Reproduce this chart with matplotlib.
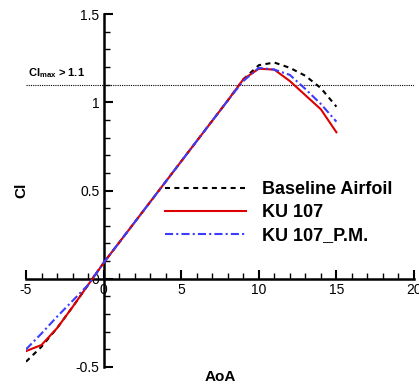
"""
Lift curve comparison: Cl vs AoA for the baseline airfoil and the KU 107 variants.
Output: out.png
"""

import matplotlib
matplotlib.use("Agg")
import matplotlib.pyplot as plt
from matplotlib.ticker import MultipleLocator, FuncFormatter
from matplotlib.lines import Line2D

plt.rcParams["font.family"] = ["Liberation Sans", "DejaVu Sans"]
plt.rcParams["mathtext.fontset"] = "custom"
plt.rcParams["mathtext.rm"] = "Liberation Sans"
plt.rcParams["mathtext.bf"] = "Liberation Sans:bold"

# ── Data ──────────────────────────────────────────────────────────────────────
aoa = [-5, -4, -3, -2, -1, 0, 1, 2, 3, 4, 5, 6, 7, 8, 9, 10, 11, 12, 13, 14, 15]

cl_baseline = [-0.47, -0.385, -0.28, -0.16, -0.035, 0.09, 0.205, 0.32, 0.435, 0.55,
               0.665, 0.78, 0.895, 1.01, 1.13, 1.21, 1.225, 1.195, 1.15, 1.08, 0.975]
cl_ku107 = [-0.41, -0.375, -0.28, -0.16, -0.035, 0.09, 0.205, 0.32, 0.435, 0.55,
            0.665, 0.78, 0.895, 1.01, 1.13, 1.19, 1.185, 1.12, 1.04, 0.96, 0.83]
cl_ku107_pm = [-0.40, -0.31, -0.215, -0.125, -0.035, 0.09, 0.205, 0.32, 0.435, 0.55,
               0.665, 0.78, 0.895, 1.01, 1.12, 1.195, 1.185, 1.155, 1.075, 0.99, 0.89]

labels = ["Baseline Airfoil", "KU 107", "KU 107_P.M."]
cl_threshold = 1.1

# ── Styles ────────────────────────────────────────────────────────────────────
BLACK_DASH = (0, (2.4, 2.1))
BLUE_DASHDOT = (0, (3.9, 1.5, 1.0, 1.5))
RED = "#dd0000"
BLUE = "#3c3cff"

W, H = 419, 388
fig = plt.figure(figsize=(W / 100, H / 100), dpi=100)
ax = fig.add_axes([26 / W, 1 - 367 / H, (414 - 26) / W, (367 - 14) / H])

ax.plot(aoa, cl_baseline, color="black", lw=1.5, ls=BLACK_DASH, zorder=3)
ax.plot(aoa, cl_ku107, color=RED, lw=1.5, zorder=4)
ax.plot(aoa, cl_ku107_pm, color=BLUE, lw=1.5, ls=BLUE_DASHDOT, zorder=5)

ax.axhline(cl_threshold, color="black", lw=0.8, ls=(0, (1, 1)), zorder=2)
ax.text(-4.9, 1.125, r"$\mathbf{Cl_{max}}$ > 1.1", fontsize=8, fontweight="bold",
        ha="left", va="bottom")

ax.set_xlim(-5, 20)
ax.set_ylim(-0.5, 1.5)

# Tecplot-style axes crossing at the origin
for side in ("top", "right"):
    ax.spines[side].set_visible(False)
ax.spines["left"].set_position(("data", 0))
ax.spines["bottom"].set_position(("data", 0))
for side in ("left", "bottom"):
    ax.spines[side].set_linewidth(1.8)

ax.xaxis.set_major_locator(MultipleLocator(5))
ax.xaxis.set_minor_locator(MultipleLocator(1))
ax.yaxis.set_major_locator(MultipleLocator(0.5))
ax.yaxis.set_minor_locator(MultipleLocator(0.1))
fmt = FuncFormatter(lambda v, p: "%g" % v)
ax.xaxis.set_major_formatter(fmt)
ax.yaxis.set_major_formatter(fmt)
ax.tick_params(which="major", direction="in", length=6.5, width=1.5, labelsize=10, pad=3)
ax.tick_params(which="minor", direction="in", length=4.3, width=1.0)

# Axis titles placed by hand because the spines sit at zero
fig.text(21 / W, 1 - 190 / H, "Cl", rotation=90, fontsize=11, fontweight="bold",
         ha="center", va="center")
fig.text(220 / W, 1 - 377 / H, "AoA", fontsize=11, fontweight="bold",
         ha="center", va="center")

handles = [
    Line2D([], [], color="black", lw=1.5, ls=BLACK_DASH),
    Line2D([], [], color=RED, lw=1.5),
    Line2D([], [], color=BLUE, lw=1.5, ls=BLUE_DASHDOT),
]
leg = fig.legend(handles, labels, loc="upper left",
                 bbox_to_anchor=(165 / W, 1 - 181 / H),
                 frameon=False, borderpad=0, borderaxespad=0,
                 handlelength=4.5, handletextpad=0.85, labelspacing=0.33,
                 prop={"weight": "bold", "size": 13})

fig.savefig("out.png", dpi=100)
